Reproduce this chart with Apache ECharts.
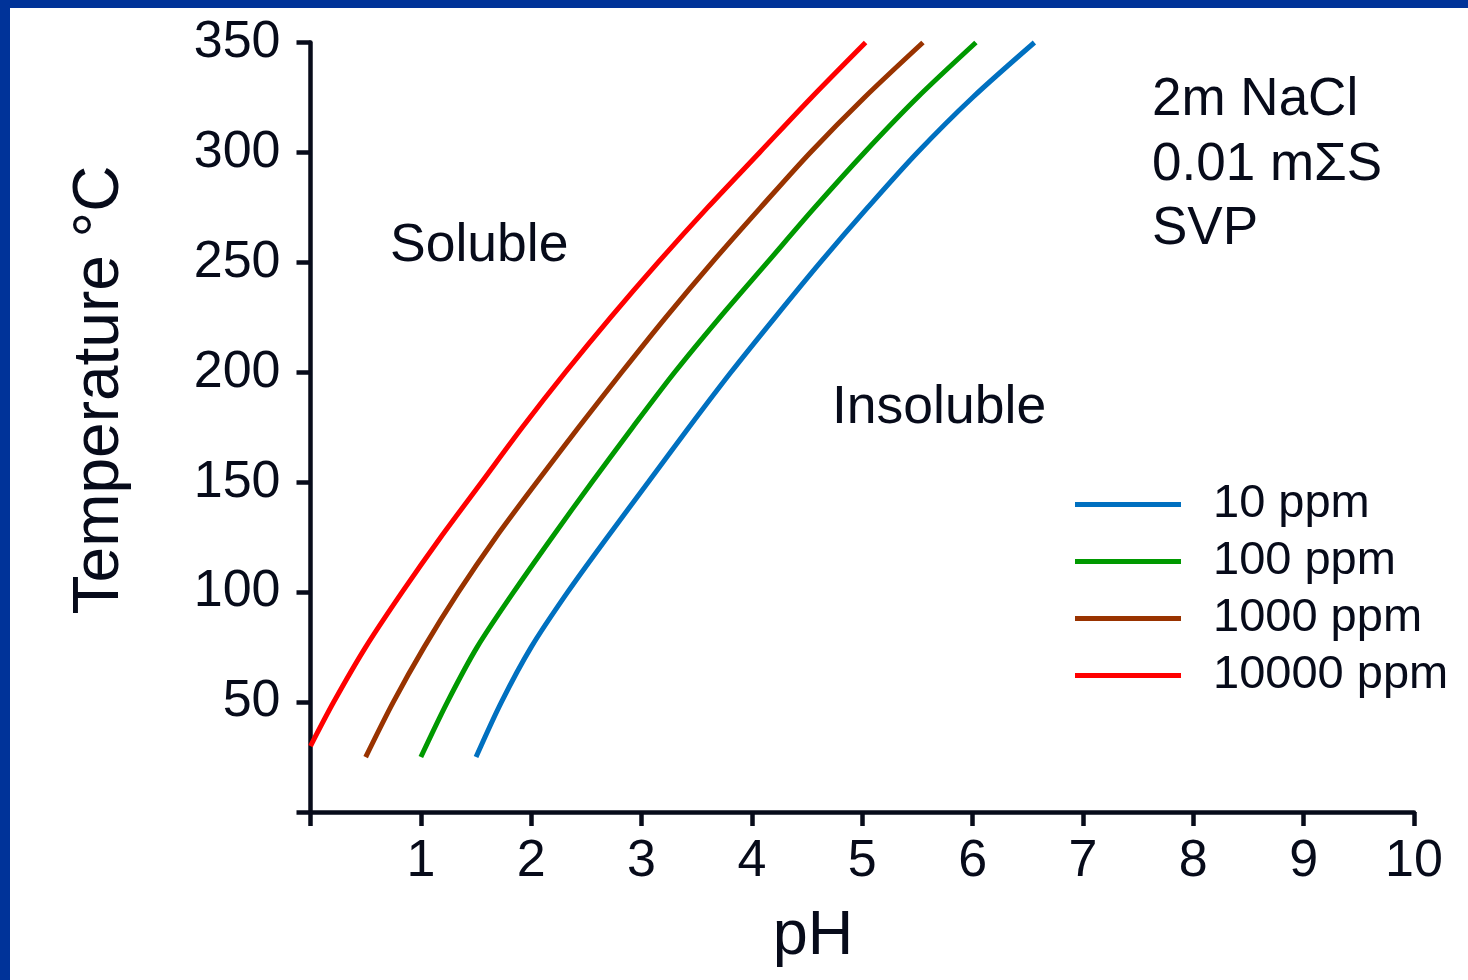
<!DOCTYPE html>
<html>
<head>
<meta charset="utf-8">
<title>Sulfide solubility vs pH</title>
<script src="https://cdn.jsdelivr.net/npm/echarts@6/dist/echarts.min.js"></script>
<style>
  html, body { margin: 0; padding: 0; background: #ffffff; overflow: hidden; }
  #chart { width: 1468px; height: 980px; }
</style>
</head>
<body>
<div id="chart"></div>
<script>
// Solubility boundaries: [pH, temperature °C] for each dissolved concentration
const seriesNames = ['10 ppm', '100 ppm', '1000 ppm', '10000 ppm'];
const seriesColors = ['#0070C0', '#009900', '#993300', '#FF0000'];

const ppm10 = [
  [1.50, 25], [1.73, 50], [2.00, 75], [2.33, 100], [2.69, 125], [3.06, 150],
  [3.43, 175], [3.81, 200], [4.21, 225], [4.62, 250], [5.05, 275], [5.50, 300],
  [6.00, 325], [6.56, 350]
];
const ppm100 = [
  [1.00, 25], [1.24, 50], [1.51, 75], [1.84, 100], [2.19, 125], [2.55, 150],
  [2.92, 175], [3.30, 200], [3.71, 225], [4.14, 250], [4.57, 275], [5.02, 300],
  [5.50, 325], [6.03, 350]
];
const ppm1000 = [
  [0.50, 25], [0.75, 50], [1.03, 75], [1.34, 100], [1.68, 125], [2.05, 150],
  [2.43, 175], [2.82, 200], [3.22, 225], [3.64, 250], [4.08, 275], [4.53, 300],
  [5.02, 325], [5.55, 350]
];
const ppm10000 = [
  [0.00, 30], [0.21, 50], [0.50, 75], [0.83, 100], [1.18, 125], [1.55, 150],
  [1.92, 175], [2.31, 200], [2.72, 225], [3.15, 250], [3.60, 275], [4.07, 300],
  [4.54, 325], [5.03, 350]
];

const xTicks = [0, 1, 2, 3, 4, 5, 6, 7, 8, 9, 10];
const yTicks = [0, 50, 100, 150, 200, 250, 300, 350];

const conditions = ['2m NaCl', '0.01 mΣS', 'SVP'];
const regionLabels = ['Soluble', 'Insoluble'];
const xTitle = 'pH';
const yTitle = 'Temperature °C';

const ink = '#070b1a';
const font = 'Liberation Sans, Arial, Helvetica, sans-serif';
const frame = '#003399';

const chart = echarts.init(document.getElementById('chart'), null, { renderer: 'canvas' });

const seriesData = [ppm10, ppm100, ppm1000, ppm10000];

const option = {
  backgroundColor: '#ffffff',
  animation: false,
  grid: {
    left: 310.5, right: 54, top: 42.5, bottom: 168,
    containLabel: false,
    outerBoundsMode: 'none'
  },
  xAxis: {
    type: 'value',
    min: xTicks[0],
    max: xTicks[xTicks.length - 1],
    interval: 1,
    axisLine: { show: true, lineStyle: { color: ink, width: 4.5 } },
    axisTick: { show: true, inside: false, length: 14, lineStyle: { color: ink, width: 4.5 } },
    axisLabel: {
      color: ink, fontSize: 52, fontFamily: font, margin: 24,
      formatter: v => (v === 0 ? '' : String(v))
    },
    splitLine: { show: false }
  },
  yAxis: {
    type: 'value',
    min: yTicks[0],
    max: yTicks[yTicks.length - 1],
    interval: 50,
    axisLine: { show: true, lineStyle: { color: ink, width: 4.5 } },
    axisTick: { show: true, inside: false, length: 14, lineStyle: { color: ink, width: 4.5 } },
    axisLabel: {
      color: ink, fontSize: 52, fontFamily: font, margin: 30,
      formatter: v => (v === 0 ? '' : String(v))
    },
    splitLine: { show: false }
  },
  legend: {
    orient: 'vertical',
    left: 1075,
    top: 481,
    padding: 0,
    icon: 'rect',
    itemWidth: 106,
    itemHeight: 5,
    itemGap: 10,
    data: seriesNames,
    textStyle: { color: ink, fontSize: 47, fontFamily: font, lineHeight: 47, padding: [0, 0, 0, 27] }
  },
  series: seriesNames.map((name, i) => ({
    name: name,
    type: 'line',
    data: seriesData[i],
    smooth: 0.3,
    showSymbol: false,
    symbol: 'none',
    lineStyle: { color: seriesColors[i], width: 5, cap: 'butt' },
    itemStyle: { color: seriesColors[i] },
    clip: true,
    z: 3
  })),
  graphic: [
    { type: 'rect', shape: { x: 0, y: 0, width: 1468, height: 8 }, style: { fill: frame }, silent: true },
    { type: 'rect', shape: { x: 0, y: 0, width: 10, height: 980 }, style: { fill: frame }, silent: true },
    {
      type: 'text', x: 100, y: 390, rotation: Math.PI / 2,
      style: { text: yTitle, fill: ink, font: '64px ' + font, align: 'center', verticalAlign: 'middle' }
    },
    {
      type: 'text', x: 813, y: 937,
      style: { text: xTitle, fill: ink, font: '63px ' + font, align: 'center', verticalAlign: 'middle' }
    },
    {
      type: 'text', x: 390, y: 246,
      style: { text: regionLabels[0], fill: ink, font: '53.5px ' + font, align: 'left', verticalAlign: 'middle' }
    },
    {
      type: 'text', x: 832, y: 408,
      style: { text: regionLabels[1], fill: ink, font: '53.5px ' + font, align: 'left', verticalAlign: 'middle' }
    },
    {
      type: 'text', x: 1152, y: 100,
      style: { text: conditions[0], fill: ink, font: '53px ' + font, align: 'left', verticalAlign: 'middle' }
    },
    {
      type: 'text', x: 1152, y: 165,
      style: { text: conditions[1], fill: ink, font: '53px ' + font, align: 'left', verticalAlign: 'middle' }
    },
    {
      type: 'text', x: 1152, y: 229,
      style: { text: conditions[2], fill: ink, font: '53px ' + font, align: 'left', verticalAlign: 'middle' }
    }
  ]
};

chart.setOption(option);
</script>
</body>
</html>
